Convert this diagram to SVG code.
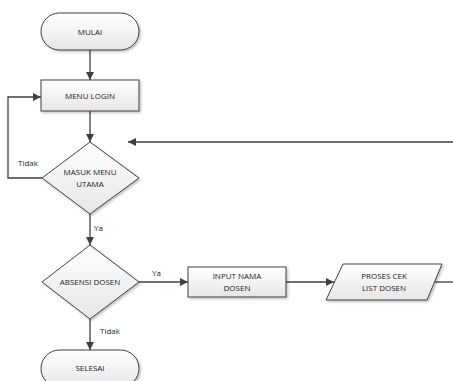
<svg xmlns="http://www.w3.org/2000/svg" width="453" height="381" viewBox="0 0 453 381">
<defs>
<linearGradient id="g" x1="0" y1="0" x2="0" y2="1">
<stop offset="0" stop-color="#ffffff"/>
<stop offset="1" stop-color="#e6e6e6"/>
</linearGradient>
<filter id="sh" x="-10%" y="-10%" width="130%" height="130%">
<feDropShadow dx="1.5" dy="1.5" stdDeviation="0.8" flood-color="#000" flood-opacity="0.25"/>
</filter>
<marker id="ah" viewBox="0 0 10 10" refX="10" refY="5" markerWidth="8" markerHeight="8" markerUnits="userSpaceOnUse" orient="auto">
<path d="M0,0 L10,5 L0,10 z" fill="#404040"/>
</marker>
</defs>
<style>
.s{fill:url(#g);stroke:#404040;stroke-width:1;filter:url(#sh)}
.t{font-family:"Open Sans","Liberation Sans",sans-serif;font-size:8px;fill:#1a1a1a;text-anchor:middle}
.l{font-family:"Open Sans","Liberation Sans",sans-serif;font-size:8px;fill:#1a1a1a}
.c{fill:none;stroke:#404040;stroke-width:1.3}
</style>
<rect width="453" height="381" fill="#fff"/>
<g id="connectors">
<line class="c" x1="90" y1="50" x2="90" y2="80" marker-end="url(#ah)"/>
<line class="c" x1="90" y1="111" x2="90" y2="142" marker-end="url(#ah)"/>
<polyline class="c" points="42,178 8,178 8,97 41,97" marker-end="url(#ah)"/>
<line class="c" x1="453" y1="142" x2="128" y2="142" marker-end="url(#ah)"/>
<line class="c" x1="90" y1="214" x2="90" y2="245" marker-end="url(#ah)"/>
<line class="c" x1="139" y1="282" x2="188" y2="282" marker-end="url(#ah)"/>
<line class="c" x1="286" y1="282" x2="334" y2="282" marker-end="url(#ah)"/>
<line class="c" x1="435" y1="282" x2="453" y2="282"/>
<line class="c" x1="90" y1="319" x2="90" y2="350" marker-end="url(#ah)"/>
<text class="l" x="18" y="166">Tidak</text>
<text class="l" x="94" y="231">Ya</text>
<text class="l" x="152" y="276">Ya</text>
<text class="l" x="100" y="334">Tidak</text>
</g>
<g id="mulai">
<rect class="s" x="41" y="13" width="98" height="37" rx="18.5"/>
<text class="t" x="90" y="34.5">MULAI</text>
</g>
<g id="menu-login">
<rect class="s" x="41" y="80" width="98" height="31"/>
<text class="t" x="90" y="98.5">MENU LOGIN</text>
</g>
<g id="masuk-menu-utama">
<polygon class="s" points="90,142 139,178 90,214 42,178"/>
<text class="t" x="90" y="175">MASUK MENU</text>
<text class="t" x="90" y="187">UTAMA</text>
</g>
<g id="absensi-dosen">
<polygon class="s" points="90,245 139,282 90,319 42,282"/>
<text class="t" x="90" y="285">ABSENSI DOSEN</text>
</g>
<g id="input-nama-dosen">
<rect class="s" x="188" y="267" width="98" height="30"/>
<text class="t" x="237" y="279">INPUT NAMA</text>
<text class="t" x="237" y="291">DOSEN</text>
</g>
<g id="proses-cek-list-dosen">
<polygon class="s" points="343,264 442,264 427,300 326,300"/>
<text class="t" x="384" y="279">PROSES CEK</text>
<text class="t" x="384" y="291">LIST DOSEN</text>
</g>
<g id="selesai">
<rect class="s" x="41" y="350" width="98" height="37" rx="18.5"/>
<text class="t" x="90" y="371">SELESAI</text>
</g>
</svg>
